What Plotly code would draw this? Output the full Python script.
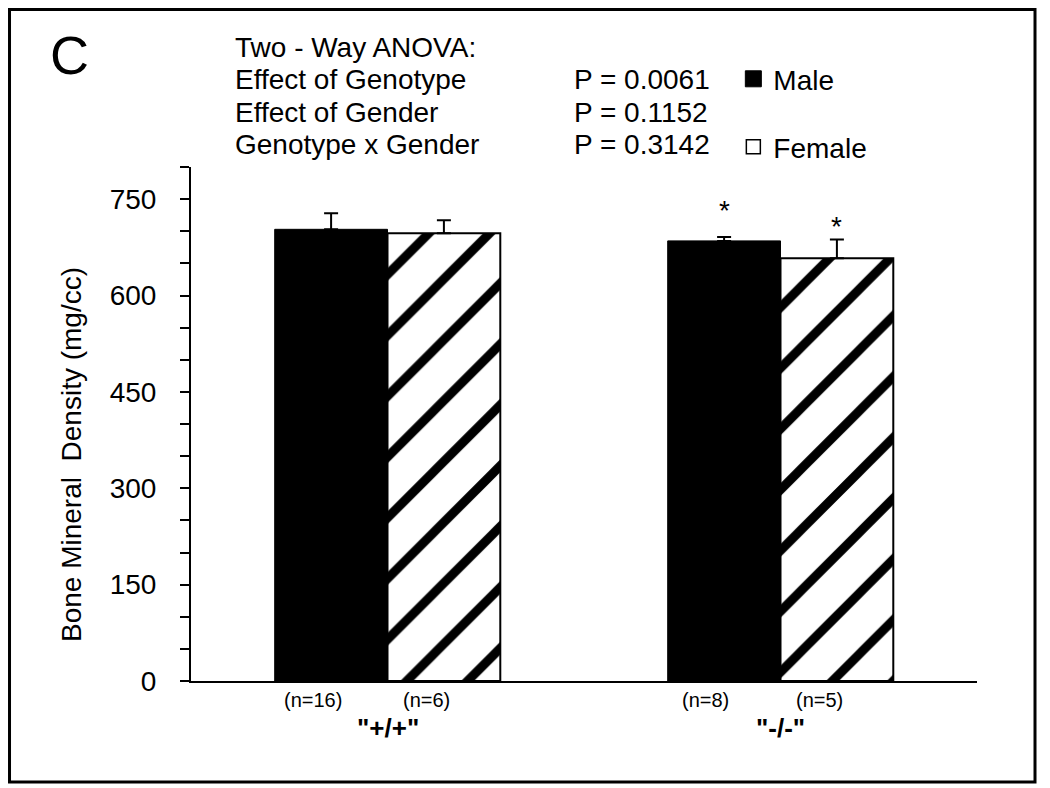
import plotly.graph_objects as go

# ---- data ----
genotypes = ['"+/+"', '"-/-"']
male_mean = [703, 685]
male_sem = [25, 6]
female_mean = [697, 658]
female_sem = [20, 29]
male_n = ["(n=16)", "(n=8)"]
female_n = ["(n=6)", "(n=5)"]
sig_male = ["", "*"]
sig_female = ["", "*"]
anova_labels = ["Effect of Genotype", "Effect of Gender", "Genotype x Gender"]
anova_p = ["P = 0.0061", "P = 0.1152", "P = 0.3142"]
y_ticks = [0, 150, 300, 450, 600, 750]

FONT = "Arial, Liberation Sans, sans-serif"

fig = go.Figure()
fig.add_trace(go.Bar(
    x=genotypes, y=male_mean, name="Male", showlegend=False,
    marker=dict(color="black", line=dict(color="black", width=1)),
    error_y=dict(type="data", symmetric=False, array=male_sem,
                 arrayminus=[0] * len(male_sem), color="black",
                 thickness=2, width=7),
))
fig.add_trace(go.Bar(
    x=genotypes, y=female_mean, name="Female", showlegend=False,
    marker=dict(color="white", line=dict(color="black", width=2),
                pattern=dict(shape="/", fgcolor="black", bgcolor="white",
                             fgopacity=1, size=43, solidity=0.21)),
    error_y=dict(type="data", symmetric=False, array=female_sem,
                 arrayminus=[0] * len(female_sem), color="black",
                 thickness=2, width=7),
))

# legend-only traces
fig.add_trace(go.Scatter(x=[None], y=[None], mode="markers", name="Male",
                         marker=dict(symbol="square", size=16, color="black",
                                     line=dict(color="black", width=1)),
                         legend="legend"))
fig.add_trace(go.Scatter(x=[None], y=[None], mode="markers", name="Female",
                         marker=dict(symbol="square", size=14, color="white",
                                     line=dict(color="black", width=1.5)),
                         legend="legend2"))


def txt(text, x, y, size, xref="paper", yref="paper", xanchor="center", **kw):
    return dict(text=text, x=x, y=y, xref=xref, yref=yref, xanchor=xanchor,
                yanchor="middle", showarrow=False,
                font=dict(size=size, color="black", family=FONT), **kw)


ann = []
ann.append(txt("C", -0.154, 1.218, 54))
ann.append(txt("Two - Way ANOVA:", 0.0534, 1.233, 28, xanchor="left"))
row_y = [1.171, 1.107, 1.043]
for lab, p, yy in zip(anova_labels, anova_p, row_y):
    ann.append(txt(lab, 0.0534, yy, 28, xanchor="left"))
    ann.append(txt(p, 0.4847, yy, 28, xanchor="left"))
ann.append(txt("Bone Mineral  Density (mg/cc)", -0.1527, 0.4416, 28, textangle=-90))
for i, g in enumerate(genotypes):
    ann.append(txt(male_n[i], i - 0.19, -0.037, 20, xref="x"))
    ann.append(txt(female_n[i], i + 0.1, -0.037, 20, xref="x"))
    ann.append(txt("<b>" + g + "</b>", i, -0.0914, 26, xref="x"))
star_y_m = [m + s + 42 for m, s in zip(male_mean, male_sem)]
star_y_f = [m + s + 20 for m, s in zip(female_mean, female_sem)]
for i in range(len(genotypes)):
    if sig_male[i]:
        ann.append(txt(sig_male[i], i - 0.1435, star_y_m[i], 28, xref="x", yref="y"))
    if sig_female[i]:
        ann.append(txt(sig_female[i], i + 0.1435, star_y_f[i], 28, xref="x", yref="y"))

fig.update_layout(
    width=1050, height=788,
    margin=dict(l=183, r=81, t=159, b=115, autoexpand=False),
    paper_bgcolor="white", plot_bgcolor="white",
    barmode="group", bargap=0.426, bargroupgap=0,
    font=dict(family=FONT, color="black"),
    annotations=ann,
    legend=dict(x=0.69, y=1.171, xanchor="left", yanchor="middle",
                font=dict(size=28, color="black", family=FONT),
                bgcolor="rgba(0,0,0,0)"),
    legend2=dict(x=0.69, y=1.039, xanchor="left", yanchor="middle",
                 font=dict(size=28, color="black", family=FONT),
                 bgcolor="rgba(0,0,0,0)"),
    shapes=[dict(type="rect", xref="paper", yref="paper",
                 x0=-0.2309, x1=1.0738, y0=-0.1965, y1=1.3064,
                 line=dict(color="black", width=3), fillcolor="rgba(0,0,0,0)")],
)
fig.update_xaxes(range=[-0.5, 1.5], showline=True, linecolor="black", linewidth=2,
                 showticklabels=False, ticks="", showgrid=False, zeroline=False)
fig.update_yaxes(range=[0, 800], tickvals=y_ticks, ticktext=[str(v) for v in y_ticks],
                 showline=True, linecolor="black", linewidth=2,
                 ticks="outside", ticklen=9, tickwidth=2, tickcolor="black",
                 minor=dict(dtick=50, tick0=0, ticks="outside", ticklen=9,
                            tickwidth=2, tickcolor="black"),
                 tickfont=dict(size=28, color="black", family=FONT),
                 ticklabelstandoff=18,
                 showgrid=False, zeroline=False)

fig.write_html("out.html")
